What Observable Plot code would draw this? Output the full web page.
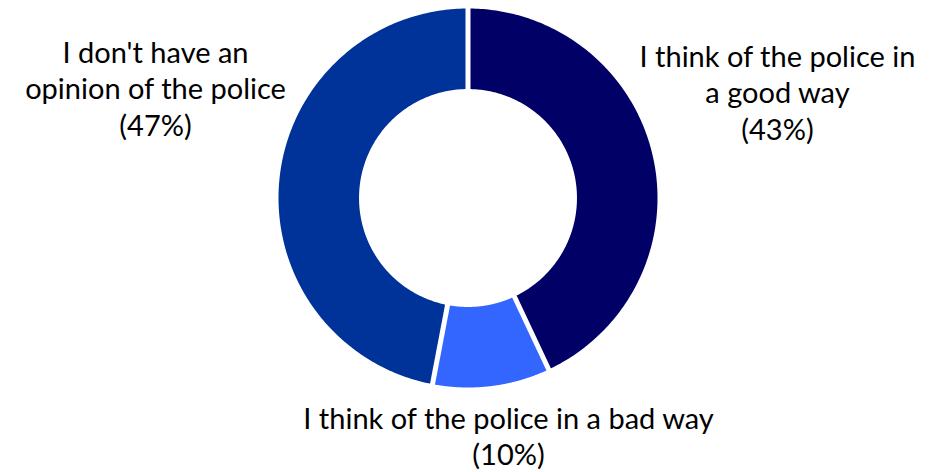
<!DOCTYPE html>
<html>
<head>
<meta charset="utf-8">
<script src="https://cdn.jsdelivr.net/npm/d3@7"></script>
<script src="https://cdn.jsdelivr.net/npm/@observablehq/plot@0.6"></script>
<style>
  html, body { margin: 0; padding: 0; background: #fff; }
</style>
</head>
<body>
<div id="chart"></div>
<script>
// Data
const categories = ["I think of the police in a good way", "I think of the police in a bad way", "I don't have an opinion of the police"];
const values = [43, 10, 47];
const labels = ["I think of the police in\na good way\n(43%)", "I think of the police in a bad way\n(10%)", "I don't have an\nopinion of the police\n(47%)"];
const colors = ["#000066", "#3366FF", "#003399"];

// Layout (unit coordinates, outer radius = 1)
const innerR = 0.575;
const labelX = [1.633, 0.214, -1.649];
const labelY = [0.561, -1.252, 0.582];

const pie = d3.pie().sort(null).value(d => d)(values);
const pts = [];
const steps = 200;
pie.forEach((s, i) => {
  const a0 = s.startAngle, a1 = s.endAngle;
  for (let k = 0; k <= steps; k++) {
    const a = a0 + (a1 - a0) * k / steps;
    pts.push({cat: categories[i], x: Math.sin(a), y: Math.cos(a)});
  }
  for (let k = steps; k >= 0; k--) {
    const a = a0 + (a1 - a0) * k / steps;
    pts.push({cat: categories[i], x: innerR * Math.sin(a), y: innerR * Math.cos(a)});
  }
});
const seps = pie.map(s => ({
  x1: 0.5 * Math.sin(s.startAngle), y1: 0.5 * Math.cos(s.startAngle),
  x2: 1.05 * Math.sin(s.startAngle), y2: 1.05 * Math.cos(s.startAngle)
}));
const labelData = categories.map((c, i) => ({text: labels[i], x: labelX[i], y: labelY[i]}));

const chart = Plot.plot({
  width: 943,
  height: 472,
  margin: 0,
  x: {domain: [-1, 1], range: [278, 657], axis: null},
  y: {domain: [-1, 1], range: [387, 8], axis: null},
  color: {domain: categories, range: colors},
  style: {fontFamily: "Lato, sans-serif", background: "white"},
  marks: [
    Plot.line(pts, {x: "x", y: "y", z: "cat", fill: "cat", stroke: null, curve: "linear"}),
    Plot.link(seps, {x1: "x1", y1: "y1", x2: "x2", y2: "y2", stroke: "white", strokeWidth: 5}),
    Plot.text(labelData, {x: "x", y: "y", text: "text", fontSize: 29, lineHeight: 1.26, fill: "#000", textAnchor: "middle", lineAnchor: "middle"})
  ]
});
document.getElementById("chart").appendChild(chart);
</script>
</body>
</html>
